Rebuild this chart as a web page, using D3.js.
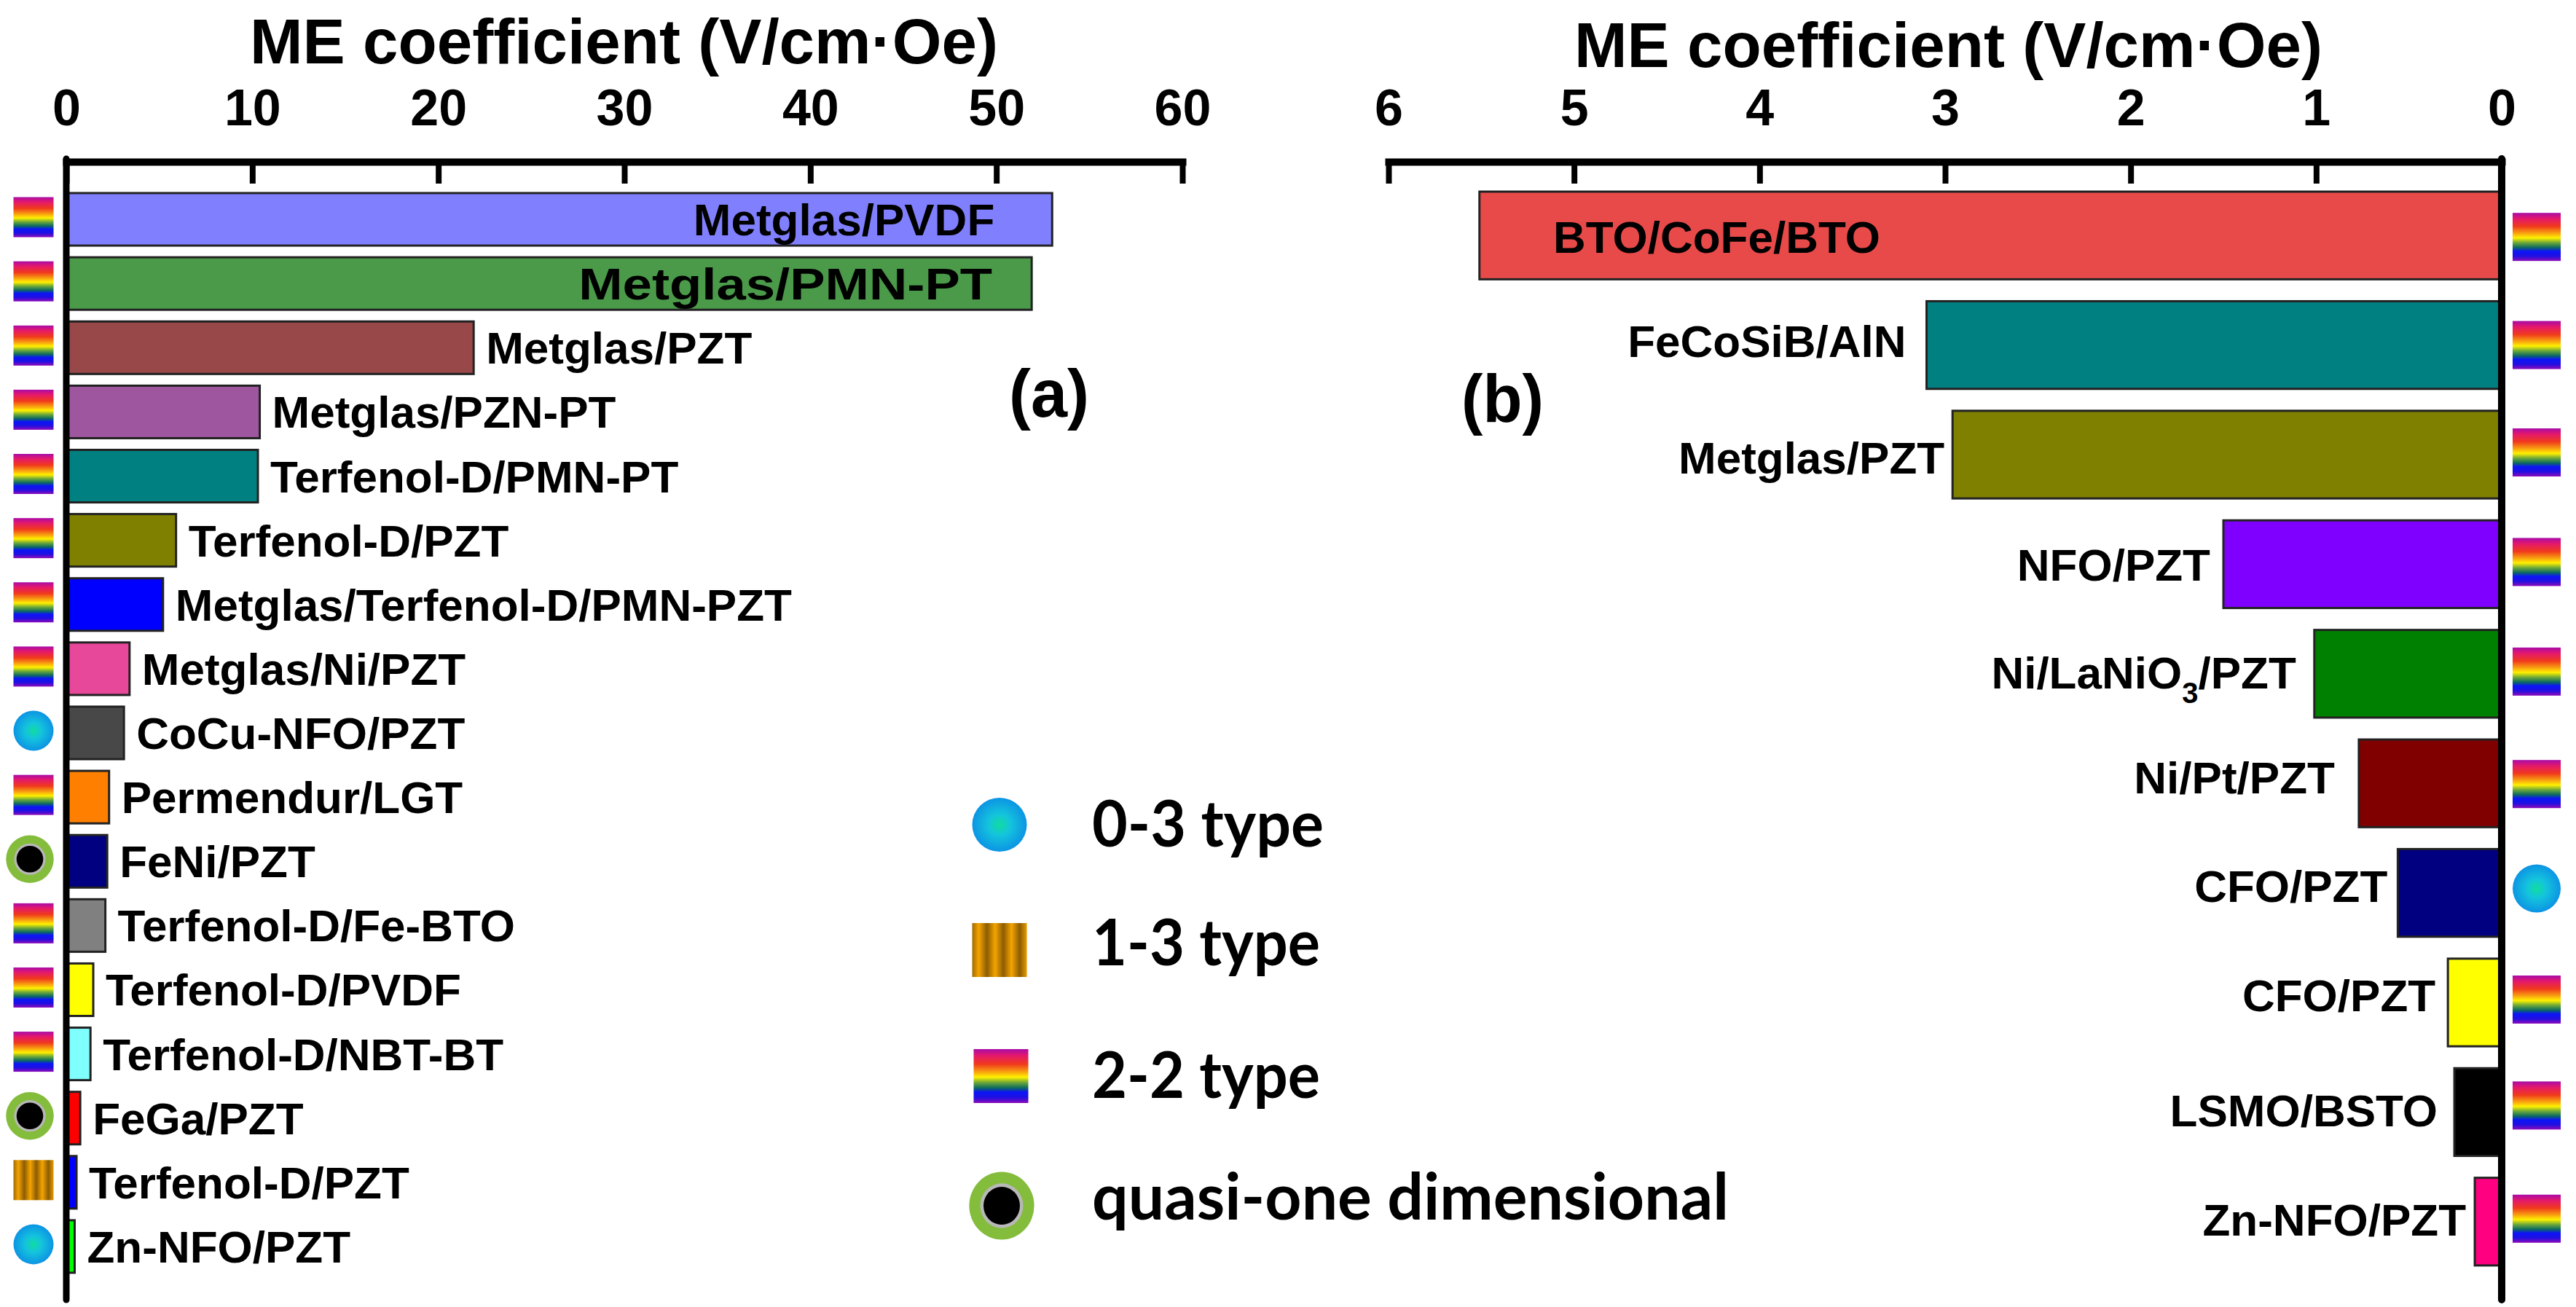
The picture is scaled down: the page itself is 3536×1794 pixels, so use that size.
<!DOCTYPE html>
<html><head><meta charset="utf-8">
<style>html,body{margin:0;padding:0;background:#fff}svg{display:block}</style>
<script src="https://cdnjs.cloudflare.com/ajax/libs/d3/7.8.5/d3.min.js"></script>
</head><body><div id="c"></div>
<script>
// ---- data ----
const labelsA = ["Metglas/PVDF","Metglas/PMN-PT","Metglas/PZT","Metglas/PZN-PT","Terfenol-D/PMN-PT","Terfenol-D/PZT","Metglas/Terfenol-D/PMN-PZT","Metglas/Ni/PZT","CoCu-NFO/PZT","Permendur/LGT","FeNi/PZT","Terfenol-D/Fe-BTO","Terfenol-D/PVDF","Terfenol-D/NBT-BT","FeGa/PZT","Terfenol-D/PZT","Zn-NFO/PZT"];
const valuesA = [53,51.9,21.9,10.4,10.3,5.9,5.2,3.4,3.1,2.3,2.2,2.1,1.45,1.3,0.75,0.55,0.45];
const typesA  = ["2-2","2-2","2-2","2-2","2-2","2-2","2-2","2-2","0-3","2-2","q1d","2-2","2-2","2-2","q1d","1-3","0-3"];
const colorsA = ["#8080ff","#4a9a4a","#984848","#9e569e","#008080","#808000","#0000ff","#e8489a","#484848","#ff8000","#000080","#808080","#ffff00","#80ffff","#ff0000","#0000ff","#00ff00"];
const labelsB = ["BTO/CoFe/BTO","FeCoSiB/AlN","Metglas/PZT","NFO/PZT","Ni/LaNiO3/PZT","Ni/Pt/PZT","CFO/PZT","CFO/PZT","LSMO/BSTO","Zn-NFO/PZT"];
const valuesB = [5.51,3.1,2.96,1.5,1.01,0.77,0.56,0.29,0.255,0.145];
const typesB  = ["2-2","2-2","2-2","2-2","2-2","2-2","0-3","2-2","2-2","2-2"];
const colorsB = ["#e84a4a","#008080","#808000","#8000ff","#008000","#800000","#000080","#ffff00","#000000","#ff0080"];
const ticksA = [0,10,20,30,40,50,60];
const ticksB = [6,5,4,3,2,1,0];
const legendKeys = ["0-3","1-3","2-2","q1d"];
const legendLabels = ["0-3 type","1-3 type","2-2 type","quasi-one dimensional"];
const axisTitle = "ME coefficient (V/cm\u00b7Oe)";

// ---- layout ----
const W=3536,H=1794, FONT="'Liberation Sans',Arial,sans-serif";
const svg=d3.select("#c").append("svg").attr("width",W).attr("height",H).attr("viewBox",`0 0 ${W} ${H}`);
svg.append("rect").attr("width",W).attr("height",H).attr("fill","#fff");
const defs=svg.append("defs");
const rb=defs.append("linearGradient").attr("id","rainbow").attr("x1",0).attr("y1",0).attr("x2",0).attr("y2",1);
[[0,"#a80ca8"],[.12,"#e4186c"],[.28,"#f03a1c"],[.42,"#f8a010"],[.52,"#fff000"],[.62,"#6ca838"],[.72,"#0c6a60"],[.8,"#0c14f8"],[.9,"#2010e0"],[1,"#900ab8"]].forEach(s=>rb.append("stop").attr("offset",s[0]).attr("stop-color",s[1]));
const st=defs.append("linearGradient").attr("id","stripes").attr("x1",-0.03).attr("x2",0.27).attr("y1",0).attr("y2",0).attr("spreadMethod","repeat");
[[0,"#8c5c00"],[.5,"#f4a400"],[1,"#8c5c00"]].forEach(s=>st.append("stop").attr("offset",s[0]).attr("stop-color",s[1]));
const ball=defs.append("radialGradient").attr("id","ball");
[[0,"#10dca0"],[.4,"#14c4dc"],[1,"#0c94e4"]].forEach(s=>ball.append("stop").attr("offset",s[0]).attr("stop-color",s[1]));

function icon(g,type,cx,cy,w,h){
  if(type==="2-2") g.append("rect").attr("x",cx-w/2).attr("y",cy-h/2).attr("width",w).attr("height",h).attr("fill","url(#rainbow)");
  else if(type==="1-3") g.append("rect").attr("x",cx-w/2).attr("y",cy-h/2).attr("width",w).attr("height",h).attr("fill","url(#stripes)");
  else if(type==="0-3") g.append("ellipse").attr("cx",cx).attr("cy",cy).attr("rx",w/2).attr("ry",h/2).attr("fill","url(#ball)");
  else {
    const rx=w/2*1.19, ry=h/2*1.19;
    g.append("ellipse").attr("cx",cx).attr("cy",cy).attr("rx",rx).attr("ry",ry).attr("fill","#84bc3c");
    g.append("ellipse").attr("cx",cx).attr("cy",cy).attr("rx",rx*.66).attr("ry",ry*.66).attr("fill","#b8b8b8");
    g.append("ellipse").attr("cx",cx).attr("cy",cy).attr("rx",rx*.56).attr("ry",ry*.56).attr("fill","#000");
  }
}

function axis(scale,ticks,yAxis,labelY){
  const g=svg.append("g").attr("transform",`translate(0,${yAxis})`)
    .call(d3.axisBottom(scale).tickValues(ticks).tickSize(30).tickSizeOuter(0).tickPadding(0).tickFormat(d3.format("d")));
  g.select(".domain").attr("stroke","#000").attr("stroke-width",10).attr("stroke-linecap","square");
  g.selectAll(".tick line").attr("stroke","#000").attr("stroke-width",8);
  g.selectAll(".tick text").attr("y",labelY-yAxis).attr("dy",0).attr("font-family",FONT).attr("font-weight","bold").attr("font-size",70).attr("fill","#000").attr("text-anchor","middle");
}
const text=(x,y,t,size,anchor="start",fam=FONT,len=null)=>{
  const e=svg.append("text").attr("x",x).attr("y",y).attr("font-family",fam).attr("font-weight","bold").attr("font-size",size).attr("text-anchor",anchor).attr("fill","#000").text(t);
  if(len) e.attr("textLength",len).attr("lengthAdjust","spacingAndGlyphs");
  return e;
};

// Panel A
const xA=d3.scaleLinear().domain([0,60]).range([91,1623]);
const yA=d3.scaleBand().domain(d3.range(labelsA.length)).range([257,1755]).paddingInner(.182).paddingOuter(.091);
const bandA=i=>yA(i)+yA.bandwidth()/2;
svg.append("g").selectAll("rect").data(valuesA).join("rect")
  .attr("x",xA(0)).attr("y",(d,i)=>yA(i)).attr("width",d=>xA(d)-xA(0)).attr("height",yA.bandwidth())
  .attr("fill",(d,i)=>colorsA[i]).attr("stroke","#222").attr("stroke-width",3);
axis(xA,ticksA,222,172);
svg.append("line").attr("x1",xA(0)).attr("x2",xA(0)).attr("y1",218).attr("y2",1784).attr("stroke","#000").attr("stroke-width",9).attr("stroke-linecap","round");
const insideA={0:79,1:54}, stretchA={1:568};
labelsA.forEach((t,i)=>{
  const inside=insideA[i];
  text(inside?xA(valuesA[i])-inside:xA(valuesA[i])+17,bandA(i)+22,t,62,inside?"end":"start",FONT,stretchA[i]||null);
  icon(svg.append("g"),typesA[i],typesA[i]==="q1d"?41:46,bandA(i)-3,55,55);
});
text(343,87,axisTitle,88,"start",FONT,1027);
text(1385,572,"(a)",92,"start",FONT,110);

// Panel B
const xB=d3.scaleLinear().domain([6,0]).range([1906,3434]);
const yB=d3.scaleBand().domain(d3.range(labelsB.length)).range([248,1752]).paddingInner(.2).paddingOuter(.1);
const bandB=i=>yB(i)+yB.bandwidth()/2;
svg.append("g").selectAll("rect").data(valuesB).join("rect")
  .attr("x",d=>xB(d)).attr("y",(d,i)=>yB(i)).attr("width",d=>xB(0)-xB(d)).attr("height",yB.bandwidth())
  .attr("fill",(d,i)=>colorsB[i]).attr("stroke","#222").attr("stroke-width",3);
axis(xB,ticksB,222,172);
svg.append("line").attr("x1",xB(0)).attr("x2",xB(0)).attr("y1",218).attr("y2",1784).attr("stroke","#000").attr("stroke-width",10).attr("stroke-linecap","round");
const gapsB=[0,28,11,18,25,33,14,17,23,12], dyB=[24,16,26,23,20,14,12,12,20,19], iconDyB=[2,0,-3,-3,-3,1,-6,-4,-9,-4];
labelsB.forEach((t,i)=>{
  const y=bandB(i)+dyB[i];
  if(i===0){ text(2132,y,t,62); }
  else if(t.includes("LaNiO3")){
    const e=text(xB(valuesB[i])-gapsB[i],y,"",62,"end");
    e.append("tspan").text("Ni/LaNiO");
    e.append("tspan").text("3").attr("font-size",40).attr("dy",20);
    e.append("tspan").text("/PZT").attr("dy",-20);
  } else text(xB(valuesB[i])-gapsB[i],y,t,62,"end");
  icon(svg.append("g"),typesB[i],3482,bandB(i)+iconDyB[i],66,66);
});
text(2161,92,axisTitle,88,"start",FONT,1027);
text(2006,579,"(b)",92,"start",FONT,113);

// Legend
const legBase=[1162,1325,1507,1674], legCy=[1132,1304,1477,1655], legCx=[1372,1372,1374,1375], legLen=[318,313,313,874];
legendKeys.forEach((k,i)=>{
  icon(svg.append("g"),k,legCx[i],legCy[i],75,k==="q1d"?78:74);
  text(1499,legBase[i],legendLabels[i],88,"start","Lato",legLen[i]);
});
</script></body></html>
